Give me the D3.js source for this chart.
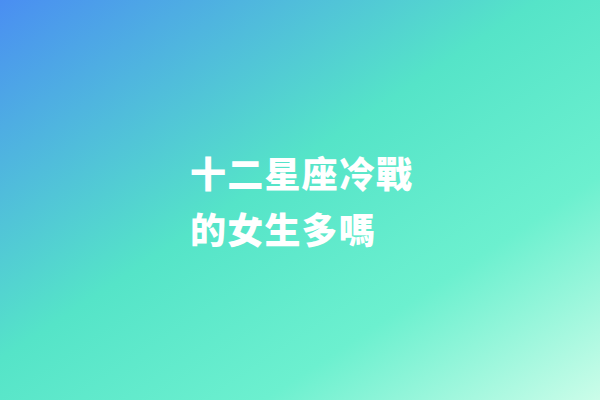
<!DOCTYPE html>
<html>
<head>
<meta charset="utf-8">
<script src="https://cdn.jsdelivr.net/npm/d3@7"></script>
<style>
  html, body { margin: 0; padding: 0; overflow: hidden; }
  svg { display: block; }
</style>
</head>
<body>
<svg id="cover"></svg>
<script>
// title lines, as shown on the card
const titleLines = ["十二星座冷戰", "的女生多嗎"];

// diagonal gradient, top-left to bottom-right
const stopOffsets = [0, 0.45, 0.72, 1];
const stopColors = ["#4a8ef2", "#55e4c8", "#6cf0cf", "#cbfde9"];

const width = 600, height = 400;
const textLeft = 190, firstBaseline = 188, lineGap = 56;

const svg = d3.select('#cover')
    .attr("width", width)
    .attr("height", height);

const grad = svg.append('defs').append('linearGradient')
    .attr("id", "bg")
    .attr("x1", 0).attr("y1", 0)
    .attr("x2", 1).attr("y2", 1);

grad.selectAll('stop')
    .data(stopOffsets)
    .join('stop')
    .attr("offset", d => d)
    .attr("stop-color", (d, i) => stopColors[i]);

svg.append('rect')
    .attr("width", width)
    .attr("height", height)
    .attr("fill", "url(#bg)");

svg.selectAll('.title')
    .data(titleLines)
    .join('text')
    .classed("title", true)
    .attr("x", textLeft)
    .attr("y", (d, i) => firstBaseline + i * lineGap)
    .attr("fill", "#ffffff")
    .attr("font-family", "'Noto Sans CJK TC', 'Noto Sans CJK SC', sans-serif")
    .attr("font-weight", 900)
    .attr("font-size", 36)
    .attr("letter-spacing", 1.2)
    .text(d => d);
</script>
</body>
</html>
